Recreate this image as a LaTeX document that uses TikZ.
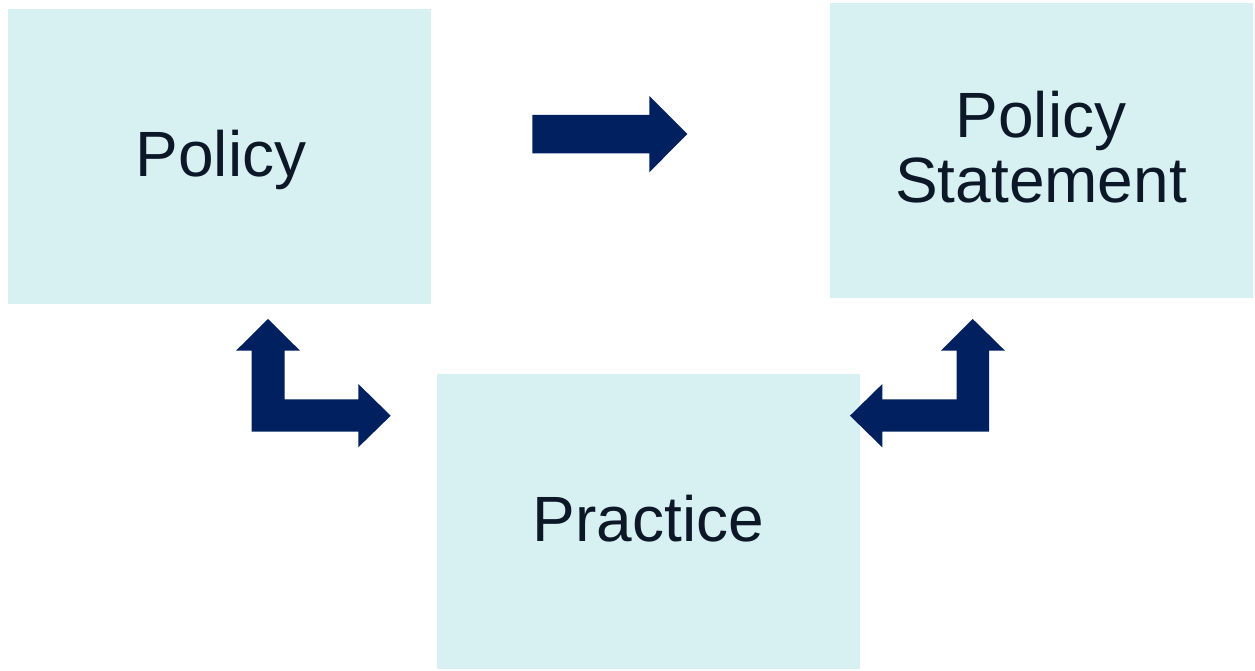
\documentclass[tikz,border=0pt]{standalone}
\usepackage{fontspec}
\setmainfont{Liberation Sans}
\definecolor{boxfill}{HTML}{D7F0F1}
\definecolor{arrowfill}{HTML}{002060}
\definecolor{txt}{HTML}{0C1828}
\begin{document}
\begin{tikzpicture}[x=1pt,y=-1pt,
  box/.style={fill=boxfill,draw=none,minimum width=423pt,minimum height=295pt,inner sep=0pt},
  boxtext/.style={text=txt,font=\fontsize{64}{65}\selectfont,align=center,inner sep=0pt,anchor=base},
  blockarrow/.style={fill=arrowfill,draw=none}]
\useasboundingbox (0,0) rectangle (1255,671);
\node[box] (policy) at (219.5,156.5) {};
\node[box] (statement) at (1041.5,150.5) {};
\node[box] (practice) at (648.5,521.5) {};
\node[boxtext] (policyt) at (221,176.5) {Policy};
\node[boxtext] (statementt) at (1041,203) {Policy\\Statement};
\node[boxtext] (practicet) at (648.3,541.5) {Practice};
% right arrow Policy -> Policy Statement
\fill[blockarrow] (532.3,115) -- (649.3,115) -- (649.3,96) -- (687.3,134) -- (649.3,172.3)
  -- (649.3,153.3) -- (532.3,153.3) -- cycle;
% left L-arrow Policy <-> Practice
\fill[blockarrow] (251.7,431.7) -- (251.7,350.7) -- (236,350.7) -- (268,319) -- (300,350.7)
  -- (284.5,350.7) -- (284.5,399.3) -- (358.3,399.3) -- (358.3,384) -- (390.7,415.7)
  -- (358.3,447.3) -- (358.3,431.7) -- cycle;
% right L-arrow Practice <-> Policy Statement
\fill[blockarrow] (989,431.7) -- (989,350.7) -- (1005,350.7) -- (972.7,319) -- (941,350.7)
  -- (956.7,350.7) -- (956.7,399.3) -- (882.3,399.3) -- (882.3,384) -- (850,415.7)
  -- (882.3,447.3) -- (882.3,431.7) -- cycle;
\end{tikzpicture}
\end{document}
